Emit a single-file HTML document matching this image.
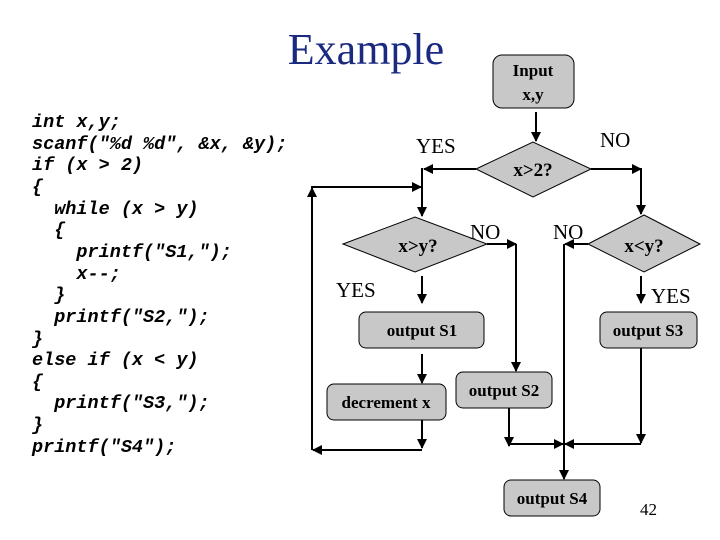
<!DOCTYPE html>
<html><head><style>
html,body{margin:0;padding:0;background:#fff;}
svg{display:block;}
.code{font-family:"Liberation Mono",monospace;font-style:italic;font-weight:bold;font-size:18.5px;fill:#000;}
.lbl{font-family:"Liberation Serif",serif;font-size:21px;fill:#000;}
.bx{font-family:"Liberation Serif",serif;font-weight:bold;font-size:17px;fill:#000;}
</style></head><body>
<svg width="720" height="540" viewBox="0 0 720 540" xmlns="http://www.w3.org/2000/svg">
<defs>
<marker id="a" markerWidth="10" markerHeight="10" refX="9" refY="5" orient="auto" markerUnits="userSpaceOnUse">
<path d="M0,0 L10,5 L0,10 z" fill="#000"/></marker>
</defs>
<text x="366" y="64" text-anchor="middle" font-family="Liberation Serif,serif" font-size="44" fill="#1a2a80">Example</text>
<g class="code">
<text x="32" y="127">int x,y;</text>
<text x="32" y="149">scanf("%d %d", &amp;x, &amp;y);</text>
<text x="32" y="170">if (x &gt; 2)</text>
<text x="32" y="192">{</text>
<text x="32" y="214" xml:space="preserve">  while (x &gt; y)</text>
<text x="32" y="235" xml:space="preserve">  {</text>
<text x="32" y="257" xml:space="preserve">    printf("S1,");</text>
<text x="32" y="279" xml:space="preserve">    x--;</text>
<text x="32" y="300" xml:space="preserve">  }</text>
<text x="32" y="322" xml:space="preserve">  printf("S2,");</text>
<text x="32" y="344">}</text>
<text x="32" y="365">else if (x &lt; y)</text>
<text x="32" y="387">{</text>
<text x="32" y="408" xml:space="preserve">  printf("S3,");</text>
<text x="32" y="430">}</text>
<text x="32" y="452">printf("S4");</text>
</g>
<g fill="#c8c8c8" stroke="#000" stroke-width="1">
<rect x="493" y="55" width="81" height="53" rx="9"/>
<polygon points="476,169 533,142 591,169 533,197"/>
<polygon points="343,244 415,217 487,244 415,272"/>
<polygon points="588,244 644,215 700,244 644,272"/>
<rect x="359" y="312" width="125" height="36" rx="7"/>
<rect x="600" y="312" width="97" height="36" rx="7"/>
<rect x="327" y="384" width="119" height="36" rx="7"/>
<rect x="456" y="372" width="96" height="36" rx="7"/>
<rect x="504" y="480" width="96" height="36" rx="7"/>
</g>
<g stroke="#000" stroke-width="2" fill="none">
<line x1="536" y1="112" x2="536" y2="141" marker-end="url(#a)"/>
<line x1="476" y1="169" x2="424" y2="169" marker-end="url(#a)"/>
<line x1="422" y1="168" x2="422" y2="216" marker-end="url(#a)"/>
<line x1="591" y1="169" x2="641" y2="169" marker-end="url(#a)"/>
<line x1="641" y1="168" x2="641" y2="214" marker-end="url(#a)"/>
<polyline points="312,450 312,187 421,187" marker-end="url(#a)"/>
<polyline points="312,190 312,187"/>
<line x1="312" y1="200" x2="312" y2="188" marker-end="url(#a)"/>
<polyline points="487,244 516,244"/>
<line x1="500" y1="244" x2="516" y2="244" marker-end="url(#a)"/>
<line x1="516" y1="244" x2="516" y2="371" marker-end="url(#a)"/>
<line x1="588" y1="244" x2="565" y2="244" marker-end="url(#a)"/>
<line x1="564" y1="244" x2="564" y2="479" marker-end="url(#a)"/>
<line x1="422" y1="276" x2="422" y2="303" marker-end="url(#a)"/>
<line x1="641" y1="276" x2="641" y2="303" marker-end="url(#a)"/>
<line x1="422" y1="354" x2="422" y2="383" marker-end="url(#a)"/>
<line x1="422" y1="420" x2="422" y2="448" marker-end="url(#a)"/>
<line x1="422" y1="450" x2="313" y2="450" marker-end="url(#a)"/>
<line x1="509" y1="408" x2="509" y2="446" marker-end="url(#a)"/>
<line x1="509" y1="444" x2="563" y2="444" marker-end="url(#a)"/>
<line x1="641" y1="348" x2="641" y2="443" marker-end="url(#a)"/>
<line x1="641" y1="444" x2="565" y2="444" marker-end="url(#a)"/>
</g>
<g class="bx" text-anchor="middle">
<text x="533" y="76">Input</text>
<text x="533" y="100">x,y</text>
<text x="533" y="176" font-size="19">x&gt;2?</text>
<text x="418" y="252" font-size="19">x&gt;y?</text>
<text x="644" y="252" font-size="19">x&lt;y?</text>
<text x="422" y="336">output S1</text>
<text x="648" y="336">output S3</text>
<text x="386" y="408">decrement  x</text>
<text x="504" y="396">output S2</text>
<text x="552" y="504">output S4</text>
</g>
<g class="lbl">
<text x="416" y="153">YES</text>
<text x="600" y="147">NO</text>
<text x="470" y="239">NO</text>
<text x="553" y="239">NO</text>
<text x="336" y="297">YES</text>
<text x="651" y="303">YES</text>
<text x="640" y="515" font-size="17">42</text>
</g>
</svg>
</body></html>
